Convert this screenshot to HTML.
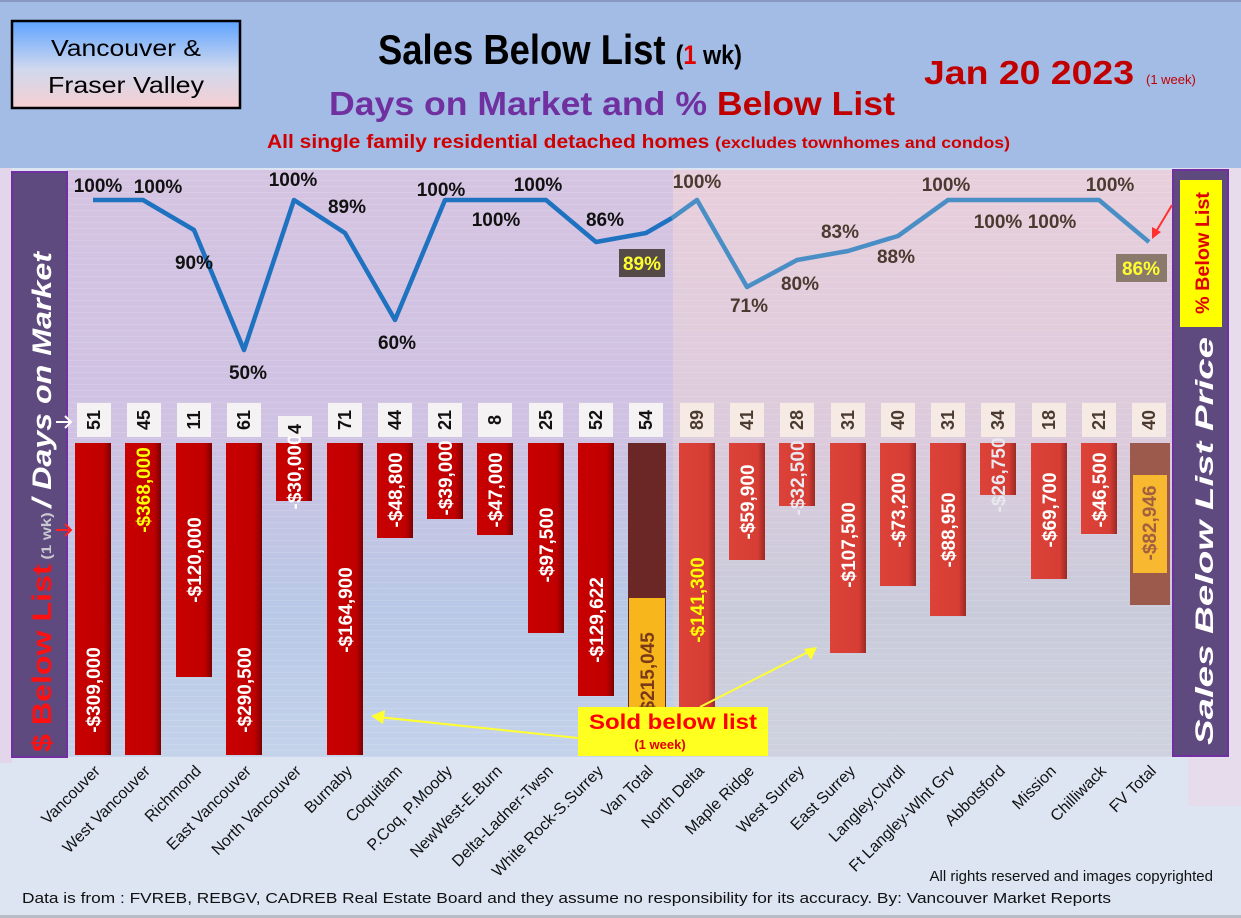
<!DOCTYPE html>
<html><head><meta charset="utf-8"><style>
html,body{margin:0;padding:0;background:#dfe6f3}
svg{display:block}
text{font-family:"Liberation Sans",sans-serif}
</style></head><body>
<svg width="1241" height="918" viewBox="0 0 1241 918" xmlns="http://www.w3.org/2000/svg">
<defs>
<linearGradient id="vfv" x1="0" y1="0" x2="0" y2="1"><stop offset="0" stop-color="#5fa3ff"/><stop offset="0.55" stop-color="#cfd8ee"/><stop offset="1" stop-color="#f6cfd2"/></linearGradient>
<linearGradient id="plotL" x1="0" y1="0" x2="0" y2="1"><stop offset="0" stop-color="#d5c4e2"/><stop offset="0.45" stop-color="#cfc2e2"/><stop offset="0.75" stop-color="#b8c8e6"/><stop offset="1" stop-color="#c4d2ea"/></linearGradient>
<linearGradient id="plotR" x1="0" y1="0" x2="0" y2="1"><stop offset="0" stop-color="#e8cfdc"/><stop offset="0.45" stop-color="#dccbdc"/><stop offset="0.75" stop-color="#c9cbdb"/><stop offset="1" stop-color="#cfd2de"/></linearGradient>
<linearGradient id="bv" x1="0" y1="0" x2="1" y2="0"><stop offset="0" stop-color="#c80000"/><stop offset="0.8" stop-color="#c00000"/><stop offset="1" stop-color="#7a0000"/></linearGradient>
<linearGradient id="bf" x1="0" y1="0" x2="1" y2="0"><stop offset="0" stop-color="#dc4238"/><stop offset="0.8" stop-color="#d63d34"/><stop offset="1" stop-color="#9a2a24"/></linearGradient>
<pattern id="stripe" width="8" height="6" patternUnits="userSpaceOnUse"><rect width="8" height="1" fill="#ffffff" opacity="0.12"/></pattern>
</defs>
<rect x="0" y="0" width="1241" height="168" fill="#a3bce6"/>
<rect x="0" y="0" width="1241" height="2" fill="#8898c0"/>
<rect x="12" y="21" width="228" height="87" fill="url(#vfv)" stroke="#000" stroke-width="2.5"/>
<text x="126" y="56" font-size="23" text-anchor="middle" textLength="150" lengthAdjust="spacingAndGlyphs">Vancouver &amp;</text>
<text x="126" y="93" font-size="23" text-anchor="middle" textLength="156" lengthAdjust="spacingAndGlyphs">Fraser Valley</text>
<text x="378" y="64" font-size="42" font-weight="bold" textLength="364" lengthAdjust="spacingAndGlyphs">Sales Below List <tspan font-size="27">(</tspan><tspan font-size="27" fill="#e00000">1</tspan><tspan font-size="27"> wk)</tspan></text>
<text x="924" y="84" font-size="33" font-weight="bold" fill="#c00000" textLength="210" lengthAdjust="spacingAndGlyphs">Jan 20  2023</text>
<text x="1146" y="84" font-size="13" fill="#c00000">(1 week)</text>
<text x="329" y="115" font-size="33" font-weight="bold" fill="#7030a0" textLength="566" lengthAdjust="spacingAndGlyphs">Days on Market and % <tspan fill="#c00000">Below List</tspan></text>
<text x="267" y="148" font-size="19" font-weight="bold" fill="#d00000" textLength="743" lengthAdjust="spacingAndGlyphs">All single family residential detached homes <tspan font-size="16">(excludes townhomes and condos)</tspan></text>
<rect x="0" y="168" width="1241" height="750" fill="#dde5f3"/>
<rect x="1188" y="168" width="53" height="638" fill="#e6dcec"/>
<rect x="0" y="168" width="12" height="595" fill="#e3d6ea"/>
<rect x="67" y="170" width="606" height="587" fill="url(#plotL)"/>
<rect x="673" y="170" width="502" height="587" fill="url(#plotR)"/>
<rect x="67" y="170" width="1108" height="587" fill="url(#stripe)"/>
<rect x="12" y="172" width="55" height="585" fill="#5e4a7e" stroke="#7030a0" stroke-width="2"/>
<g transform="translate(51,752) rotate(-90)">
<text x="0" y="0" font-size="27" font-weight="bold" font-style="italic" fill="#fff" textLength="500" lengthAdjust="spacingAndGlyphs"><tspan fill="#ff1010" font-style="normal">$ Below List</tspan><tspan font-size="14" fill="#c8c8d0" font-style="normal"> (1 wk) </tspan> / Days on Market</text>
</g>
<g stroke="#fff" stroke-width="2" fill="none"><line x1="56" y1="422" x2="71" y2="422"/><polyline points="65,416 71,422 65,428"/></g>
<g stroke="#ff2020" stroke-width="2" fill="none"><line x1="56" y1="530" x2="71" y2="530"/><polyline points="65,524 71,530 65,536"/></g>
<rect x="1173" y="170" width="55" height="586" fill="#5e4a7e" stroke="#7030a0" stroke-width="2"/>
<rect x="1180" y="180" width="42" height="147" fill="#ffff00"/>
<g transform="translate(1209,314) rotate(-90)"><text x="0" y="0" font-size="19" font-weight="bold" fill="#e00000" textLength="122" lengthAdjust="spacingAndGlyphs">% Below List</text></g>
<g transform="translate(1213,745) rotate(-90)"><text x="0" y="0" font-size="25" font-weight="bold" font-style="italic" fill="#fff" textLength="408" lengthAdjust="spacingAndGlyphs">Sales Below List Price</text></g>
<line x1="1172" y1="205" x2="1154" y2="235" stroke="#ff3030" stroke-width="2"/>
<polygon points="1152,239 1152,227 1161,232" fill="#ff3030"/>
<g>
<rect x="75" y="443" width="36" height="312" fill="url(#bv)"/>
<rect x="125" y="443" width="36" height="312" fill="url(#bv)"/>
<rect x="176" y="443" width="36" height="234" fill="url(#bv)"/>
<rect x="226" y="443" width="36" height="312" fill="url(#bv)"/>
<rect x="276" y="443" width="36" height="58" fill="url(#bv)"/>
<rect x="327" y="443" width="36" height="312" fill="url(#bv)"/>
<rect x="377" y="443" width="36" height="95" fill="url(#bv)"/>
<rect x="427" y="443" width="36" height="76" fill="url(#bv)"/>
<rect x="477" y="443" width="36" height="92" fill="url(#bv)"/>
<rect x="528" y="443" width="36" height="190" fill="url(#bv)"/>
<rect x="578" y="443" width="36" height="253" fill="url(#bv)"/>
<rect x="628" y="443" width="38" height="312" fill="#6b2626"/>
<rect x="629" y="598" width="36" height="157" fill="#f6b61c"/>
<rect x="679" y="443" width="36" height="290" fill="url(#bf)"/>
<rect x="729" y="443" width="36" height="117" fill="url(#bf)"/>
<rect x="779" y="443" width="36" height="63" fill="url(#bf)"/>
<rect x="830" y="443" width="36" height="210" fill="url(#bf)"/>
<rect x="880" y="443" width="36" height="143" fill="url(#bf)"/>
<rect x="930" y="443" width="36" height="173" fill="url(#bf)"/>
<rect x="980" y="443" width="36" height="52" fill="url(#bf)"/>
<rect x="1031" y="443" width="36" height="136" fill="url(#bf)"/>
<rect x="1081" y="443" width="36" height="91" fill="url(#bf)"/>
<rect x="1130" y="443" width="40" height="162" fill="#9b5a4c"/>
<rect x="1133" y="475" width="34" height="98" fill="#f8b830"/>
</g>
<g font-size="19" font-weight="bold" fill="#fff" text-anchor="middle">
<text transform="translate(100,690) rotate(-90)">-$309,000</text>
<text transform="translate(150,490) rotate(-90)" fill="#ffff00">-$368,000</text>
<text transform="translate(201,560) rotate(-90)">-$120,000</text>
<text transform="translate(251,690) rotate(-90)">-$290,500</text>
<text transform="translate(301,472) rotate(-90)">-$30,000</text>
<text transform="translate(352,610) rotate(-90)">-$164,900</text>
<text transform="translate(402,490) rotate(-90)">-$48,800</text>
<text transform="translate(452,478) rotate(-90)">-$39,000</text>
<text transform="translate(502,490) rotate(-90)">-$47,000</text>
<text transform="translate(553,545) rotate(-90)">-$97,500</text>
<text transform="translate(603,620) rotate(-90)">-$129,622</text>
<text transform="translate(654,675) rotate(-90)" fill="#7a3a18">-$215,045</text>
<text transform="translate(704,600) rotate(-90)" fill="#ffff00">-$141,300</text>
<text transform="translate(754,502) rotate(-90)">-$59,900</text>
<text transform="translate(804,478) rotate(-90)" fill="#e8e8ee">-$32,500</text>
<text transform="translate(855,545) rotate(-90)">-$107,500</text>
<text transform="translate(905,510) rotate(-90)">-$73,200</text>
<text transform="translate(955,530) rotate(-90)">-$88,950</text>
<text transform="translate(1005,475) rotate(-90)" fill="#e8e8ee">-$26,750</text>
<text transform="translate(1056,510) rotate(-90)">-$69,700</text>
<text transform="translate(1106,490) rotate(-90)">-$46,500</text>
<text transform="translate(1156,523) rotate(-90)" fill="#a06040">-$82,946</text>
</g>
<g fill="#f4f2f2">
<rect x="77" y="403" width="34" height="34"/><rect x="127" y="403" width="34" height="34"/><rect x="177" y="403" width="34" height="34"/><rect x="227" y="403" width="34" height="34"/><rect x="278" y="416" width="34" height="21"/><rect x="328" y="403" width="34" height="34"/><rect x="378" y="403" width="34" height="34"/><rect x="428" y="403" width="34" height="34"/><rect x="478" y="403" width="34" height="34"/><rect x="529" y="403" width="34" height="34"/><rect x="579" y="403" width="34" height="34"/><rect x="629" y="403" width="34" height="34"/>
</g>
<g fill="#f6ebe4">
<rect x="680" y="403" width="34" height="34"/><rect x="730" y="403" width="34" height="34"/><rect x="780" y="403" width="34" height="34"/><rect x="831" y="403" width="34" height="34"/><rect x="881" y="403" width="34" height="34"/><rect x="931" y="403" width="34" height="34"/><rect x="981" y="403" width="34" height="34"/><rect x="1032" y="403" width="34" height="34"/><rect x="1082" y="403" width="34" height="34"/><rect x="1132" y="403" width="34" height="34"/>
</g>
<g font-size="18" font-weight="bold" fill="#111" text-anchor="middle">
<text transform="translate(100,420) rotate(-90)">51</text>
<text transform="translate(150,420) rotate(-90)">45</text>
<text transform="translate(200,420) rotate(-90)">11</text>
<text transform="translate(250,420) rotate(-90)">61</text>
<text transform="translate(301,429) rotate(-90)">4</text>
<text transform="translate(351,420) rotate(-90)">71</text>
<text transform="translate(401,420) rotate(-90)">44</text>
<text transform="translate(451,420) rotate(-90)">21</text>
<text transform="translate(501,420) rotate(-90)">8</text>
<text transform="translate(552,420) rotate(-90)">25</text>
<text transform="translate(602,420) rotate(-90)">52</text>
<text transform="translate(652,420) rotate(-90)">54</text>
</g>
<g font-size="18" font-weight="bold" fill="#4a3a30" text-anchor="middle">
<text transform="translate(703,420) rotate(-90)">89</text>
<text transform="translate(753,420) rotate(-90)">41</text>
<text transform="translate(803,420) rotate(-90)">28</text>
<text transform="translate(854,420) rotate(-90)">31</text>
<text transform="translate(904,420) rotate(-90)">40</text>
<text transform="translate(954,420) rotate(-90)">31</text>
<text transform="translate(1004,420) rotate(-90)">34</text>
<text transform="translate(1055,420) rotate(-90)">18</text>
<text transform="translate(1105,420) rotate(-90)">21</text>
<text transform="translate(1155,420) rotate(-90)">40</text>
</g>
<polyline fill="none" stroke="#1f72c0" stroke-width="4.5" stroke-linejoin="round" points="93,200 143,200 194,230 244,350 294,200 345,233 395,320 445,200 495,200 546,200 596,242 646,233 672,218"/>
<polyline fill="none" stroke="#4a8ec6" stroke-width="4.5" stroke-linejoin="round" points="672,218 697,200 747,287 797,260 848,251 898,236 948,200 998,200 1049,200 1099,200 1149,242"/>
<g font-size="19" font-weight="bold" fill="#111" text-anchor="middle">
<text x="98" y="192">100%</text><text x="158" y="193">100%</text><text x="194" y="269">90%</text><text x="248" y="379">50%</text><text x="293" y="186">100%</text><text x="347" y="213">89%</text><text x="397" y="349">60%</text><text x="441" y="196">100%</text><text x="496" y="226">100%</text><text x="538" y="191">100%</text><text x="605" y="226">86%</text>
</g>
<g font-size="19" font-weight="bold" fill="#4a3a30" text-anchor="middle">
<text x="697" y="188">100%</text><text x="749" y="312">71%</text><text x="800" y="290">80%</text><text x="840" y="238">83%</text><text x="896" y="263">88%</text><text x="946" y="191">100%</text><text x="998" y="228">100%</text><text x="1052" y="228">100%</text><text x="1110" y="191">100%</text>
</g>
<rect x="619" y="249" width="46" height="28" fill="#554a48"/>
<text x="642" y="270" font-size="19" font-weight="bold" fill="#ffff30" text-anchor="middle">89%</text>
<rect x="1116" y="254" width="51" height="28" fill="#8a7a6c"/>
<text x="1141" y="275" font-size="19" font-weight="bold" fill="#ffff30" text-anchor="middle">86%</text>
<line x1="578" y1="738" x2="378" y2="717" stroke="#ffff30" stroke-width="2"/>
<polygon points="371,716 385,710 383,724" fill="#ffff30"/>
<line x1="700" y1="707" x2="812" y2="650" stroke="#ffff30" stroke-width="2"/>
<polygon points="817,647 804,649 811,660" fill="#ffff30"/>
<rect x="578" y="707" width="190" height="49" fill="#ffff20"/>
<text x="673" y="729" font-size="21" font-weight="bold" fill="#ff0000" text-anchor="middle" textLength="168" lengthAdjust="spacingAndGlyphs">Sold below list</text>
<text x="660" y="749" font-size="13" font-weight="bold" fill="#e00000" text-anchor="middle">(1 week)</text>
<g font-size="16" fill="#111" text-anchor="end">
<text transform="translate(101,772) rotate(-45)">Vancouver</text>
<text transform="translate(151,772) rotate(-45)">West Vancouver</text>
<text transform="translate(202,772) rotate(-45)">Richmond</text>
<text transform="translate(252,772) rotate(-45)">East Vancouver</text>
<text transform="translate(302,772) rotate(-45)">North Vancouver</text>
<text transform="translate(353,772) rotate(-45)">Burnaby</text>
<text transform="translate(403,772) rotate(-45)">Coquitlam</text>
<text transform="translate(453,772) rotate(-45)">P.Coq, P.Moody</text>
<text transform="translate(503,772) rotate(-45)">NewWest-E.Burn</text>
<text transform="translate(554,772) rotate(-45)">Delta-Ladner-Twsn</text>
<text transform="translate(604,772) rotate(-45)">White Rock-S.Surrey</text>
<text transform="translate(654,772) rotate(-45)">Van Total</text>
<text transform="translate(705,772) rotate(-45)">North Delta</text>
<text transform="translate(755,772) rotate(-45)">Maple Ridge</text>
<text transform="translate(805,772) rotate(-45)">West Surrey</text>
<text transform="translate(856,772) rotate(-45)">East Surrey</text>
<text transform="translate(906,772) rotate(-45)">Langley,Clvrdl</text>
<text transform="translate(956,772) rotate(-45)">Ft Langley-Wlnt Grv</text>
<text transform="translate(1006,772) rotate(-45)">Abbotsford</text>
<text transform="translate(1057,772) rotate(-45)">Mission</text>
<text transform="translate(1107,772) rotate(-45)">Chilliwack</text>
<text transform="translate(1157,772) rotate(-45)">FV Total</text>
</g>
<text x="1213" y="881" font-size="15" fill="#111" text-anchor="end">All rights reserved and  images copyrighted</text>
<text x="22" y="903" font-size="15" fill="#111" textLength="1089" lengthAdjust="spacingAndGlyphs">Data is from : FVREB, REBGV, CADREB Real Estate Board and they assume no responsibility for its accuracy. By: Vancouver Market Reports</text>
<rect x="0" y="915" width="1241" height="3" fill="#b8bcc4"/>
</svg>
</body></html>
